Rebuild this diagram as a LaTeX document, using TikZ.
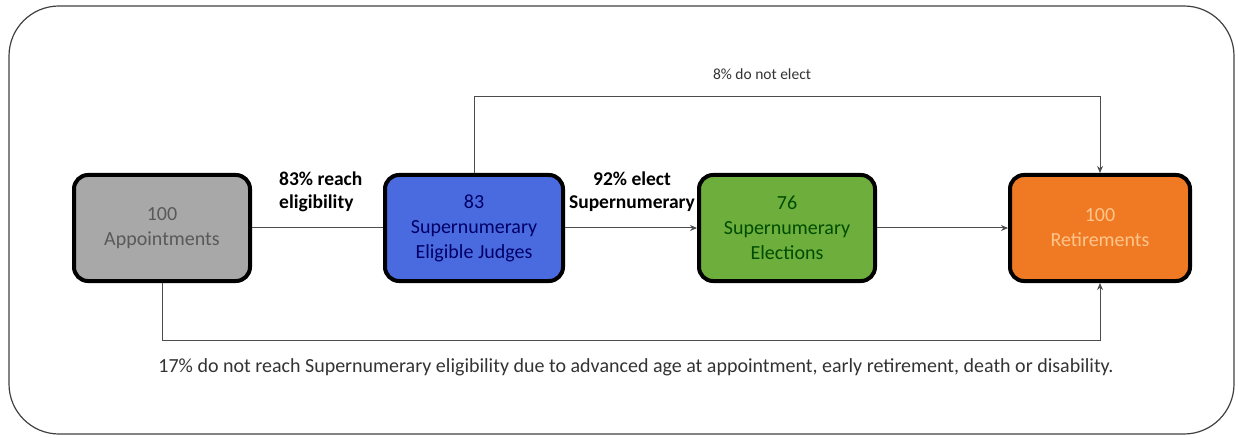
\documentclass[tikz,border=0pt]{standalone}
\usepackage{fontspec}
\setmainfont{Carlito}
\usetikzlibrary{arrows.meta}
\definecolor{boxgray}{HTML}{A8A8A8}
\definecolor{boxblue}{HTML}{4A6BE0}
\definecolor{boxgreen}{HTML}{6DAE3C}
\definecolor{boxorange}{HTML}{F07A24}
\begin{document}
\begin{tikzpicture}[x=1pt,y=-1pt,
  box/.style={draw=black, line width=4pt, rounded corners=14pt, minimum width=176pt,
    minimum height=106pt, align=center, inner sep=0pt,
    font=\fontsize{20}{25}\selectfont},
  conn/.style={draw=black!70, line width=1pt},
  arr/.style={conn, -{Stealth[length=7pt,width=6pt]}},
  lbl/.style={font=\bfseries\fontsize{19.5}{23}\selectfont, align=left, inner sep=0pt},
  note/.style={font=\fontsize{20}{22}\selectfont, text=black!80, inner sep=0pt},
]
\useasboundingbox (0,0) rectangle (1238,438);
\draw[black!75, line width=1.2pt, rounded corners=50pt] (9,6) rectangle (1234,434);

\node[box, fill=boxgray, text=black!65] (a) at (162,228) {100\\Appointments};
\node[box, fill=boxblue, text=blue!40!black, minimum width=178pt] (b) at (474,228) {83\\Supernumerary\\Eligible Judges};
\node[box, fill=boxgreen, text=green!30!black] (c) at (787,228) {76\\Supernumerary\\Elections};
\node[box, fill=boxorange, text=orange!45!white, minimum width=180pt] (d) at (1100,228) {100\\Retirements};

\draw[conn] (a) -- (b);
\draw[arr] (b) -- (c);
\draw[arr] (c) -- (d);
\draw[arr] (b.north) -- (b.north |- 0,97) -| (d.north);
\draw[arr] (a.south) -- (a.south |- 0,340) -| (d.south);

\node[lbl, anchor=west] (l1) at (279,192) {83\% reach\\eligibility};
\node[lbl, align=center] (l2) at (632,192) {92\% elect\\Supernumerary};
\node[note, font=\fontsize{15.5}{18}\selectfont] (l3) at (762,74) {8\% do not elect};
\node[note] (l4) at (636,367) {17\% do not reach Supernumerary eligibility due to advanced age at appointment, early retirement, death or disability.};
\end{tikzpicture}
\end{document}
